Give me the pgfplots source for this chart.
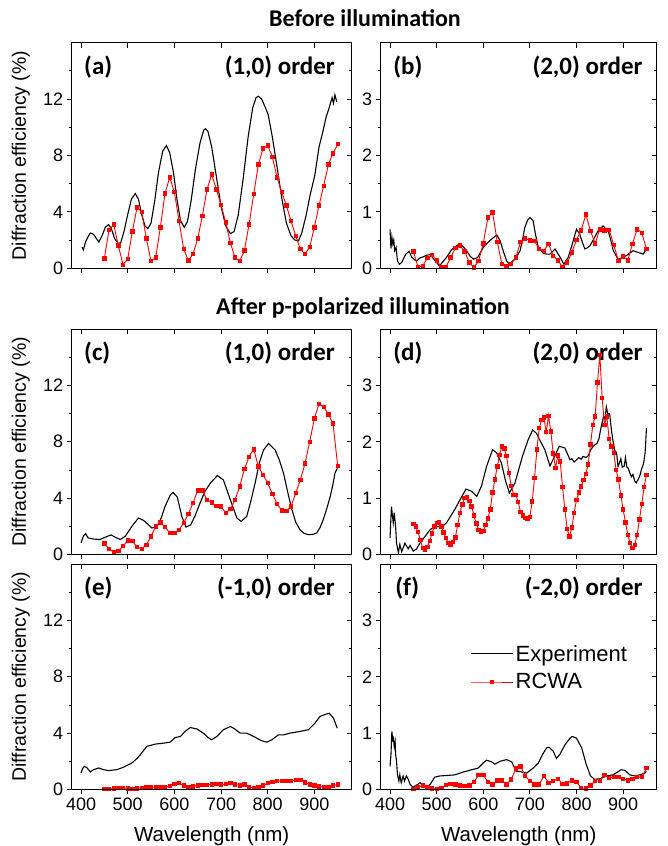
\documentclass[border=0pt]{standalone}
\usepackage{fontspec}
\setmainfont{Liberation Sans}
\newfontfamily\calfont{Carlito}
\usepackage{pgfplots}
\pgfplotsset{compat=1.18}
\tikzset{plab/.style={font=\calfont\bfseries\fontsize{25}{30}\selectfont, inner sep=0pt}}
\pgfplotsset{
  base/.style={
    scale only axis, width=280pt, height=225.5pt,
    xmin=380, xmax=980,
    xtick={400,500,...,900},
    tick align=outside, xtick pos=bottom, ytick pos=left,
    major tick length=5pt, minor tick length=3pt,
    tick style={black, line width=0.8pt},
    axis line style={line width=0.8pt},
    ticklabel style={font=\fontsize{18}{20}\selectfont},
    /pgf/number format/assume math mode=true,
    anchor=north west,
  },
  leftcol/.style={base, ymin=0, ymax=16, ytick={0,4,8,12}, minor ytick={2,6,10,14},
    ylabel={Diffraction efficiency (\%)},
    ylabel style={font=\fontsize{19.5}{22}\selectfont, at={(axis description cs:-0.182,0.5)}, anchor=center}},
  rightcol/.style={base, width=276pt, xmax=972, ymin=0, ymax=4, ytick={0,1,2,3}, minor ytick={0.5,1.5,2.5,3.5}},
  noxl/.style={xticklabels={}},
  xl/.style={xlabel={Wavelength (nm)}, xlabel style={font=\fontsize{20.5}{23}\selectfont, inner sep=0pt, at={(axis description cs:0.5,-0.205)}, anchor=center}},
  over/.style={xtick pos=top, ytick pos=right, tick align=inside, xticklabels={}, yticklabels={}, ylabel={}, xlabel={}},
  exp/.style={black, line width=1.1pt, no markers},
  rcwa/.style={red, line width=0.9pt, mark=square*, mark size=1.7pt, mark options={solid}},
}
\begin{document}
\begin{tikzpicture}
\useasboundingbox (0pt,0pt) rectangle (667pt,846pt);
\node[font=\calfont\bfseries\fontsize{24}{28}\selectfont, anchor=base] at (365pt,819pt) {Before illumination};
\node[font=\calfont\bfseries\fontsize{24}{28}\selectfont, anchor=base] at (363pt,531pt) {After p-polarized illumination};

% (a)
\begin{axis}[leftcol, noxl, at={(71.7pt,803.3pt)}]
\addplot[exp] coordinates {(402,1.5)(405,1.3)(410,1.9)(416,2.3)(420,2.5)(427,2.4)(433,2.1)(438,1.85)(445,2.3)(452,2.9)(459,3.1)(465,2.8)(472,2.1)(480,1.75)(485,1.8)(492,2.6)(500,3.8)(508,4.9)(516,5.3)(523,4.9)(530,3.8)(537,3.0)(543,2.8)(550,3.2)(558,4.8)(566,6.8)(575,8.3)(583,8.7)(590,8.2)(598,6.8)(606,4.8)(613,3.4)(621,2.9)(628,3.3)(636,4.8)(645,7.0)(655,8.9)(663,9.8)(667,9.9)(672,9.7)(680,8.6)(690,6.5)(700,4.4)(710,3.0)(720,2.45)(728,2.6)(737,3.8)(748,6.5)(758,9.3)(768,11.4)(775,12.1)(780,12.2)(787,12.0)(795,11.4)(801,10.9)(810,9.3)(820,7.2)(830,5.0)(840,3.2)(850,2.3)(858,2.0)(866,1.95)(873,2.5)(882,3.7)(891,5.2)(901,6.6)(910,8.6)(919,9.8)(925,10.7)(932,11.4)(938,12.1)(941,11.7)(944,12.3)(948,11.8)};
\addplot[rcwa] coordinates {(450,0.7)(460,2.7)(470,3.1)(480,1.6)(490,0.25)(500,0.65)(510,2.6)(520,4.3)(530,4.0)(540,2.1)(550,0.5)(560,0.75)(570,2.9)(580,5.3)(590,6.45)(600,5.4)(610,3.35)(620,1.35)(630,0.55)(640,1.0)(650,2.1)(660,3.7)(670,5.6)(680,6.65)(690,5.6)(700,4.5)(710,3.25)(720,1.8)(730,0.75)(740,0.5)(750,1.25)(760,3.1)(770,5.25)(780,7.35)(790,8.5)(800,8.7)(810,7.9)(820,6.45)(830,5.4)(840,4.45)(850,3.35)(860,2.3)(870,1.35)(880,1.0)(890,1.5)(900,2.9)(910,4.45)(920,5.85)(930,7.35)(940,8.15)(950,8.8)};
\node[plab, anchor=west] at (rel axis cs:0.044,0.893) {(a)};
\node[plab, anchor=east] at (rel axis cs:0.94,0.893) {(1,0) order};
\end{axis}
\begin{axis}[leftcol, over, at={(71.7pt,803.3pt)}]
\end{axis}

% (b)
\begin{axis}[rightcol, noxl, at={(380.7pt,803.3pt)}]
\addplot[exp] coordinates {(400,0.69)(402,0.35)(404,0.55)(406,0.43)(408,0.5)(410,0.31)(413,0.37)(416,0.13)(420,0.07)(425,0.1)(430,0.19)(434,0.25)(441,0.3)(446,0.2)(452,0.15)(457,0.13)(464,0.18)(471,0.2)(478,0.23)(486,0.24)(496,0.14)(506,0.04)(514,0.12)(521,0.19)(532,0.33)(543,0.4)(550,0.43)(557,0.38)(564,0.31)(572,0.21)(579,0.16)(588,0.19)(600,0.37)(614,0.49)(629,0.59)(636,0.49)(643,0.3)(650,0.13)(656,0.07)(662,0.12)(668,0.16)(679,0.31)(684,0.5)(689,0.72)(695,0.85)(700,0.9)(707,0.84)(712,0.6)(718,0.37)(729,0.26)(736,0.25)(743,0.25)(754,0.34)(763,0.22)(773,0.07)(782,0.19)(790,0.4)(800,0.69)(807,0.6)(813,0.45)(818,0.34)(823,0.36)(829,0.4)(837,0.52)(846,0.66)(857,0.75)(868,0.66)(874,0.48)(879,0.31)(889,0.16)(900,0.19)(910,0.24)(921,0.31)(932,0.28)(943,0.25)(950,0.34)};
\addplot[rcwa] coordinates {(450,0.3)(460,0.02)(470,0.04)(480,0.18)(490,0.24)(500,0.14)(510,0.02)(520,0.02)(530,0.19)(540,0.36)(550,0.40)(560,0.30)(570,0.10)(580,0.01)(590,0.13)(600,0.44)(610,0.90)(620,0.99)(630,0.47)(640,0.07)(650,0.04)(660,0.08)(670,0.19)(680,0.47)(690,0.53)(700,0.49)(710,0.48)(720,0.34)(730,0.31)(740,0.43)(750,0.22)(760,0.14)(770,0.02)(780,0.10)(790,0.28)(800,0.50)(810,0.67)(820,0.95)(830,0.66)(840,0.44)(850,0.69)(860,0.67)(870,0.68)(880,0.41)(890,0.13)(900,0.21)(910,0.14)(920,0.43)(930,0.69)(940,0.63)(950,0.34)};
\node[plab, anchor=west] at (rel axis cs:0.045,0.893) {(b)};
\node[plab, anchor=east] at (rel axis cs:0.949,0.893) {(2,0) order};
\end{axis}
\begin{axis}[rightcol, over, at={(380.7pt,803.3pt)}]
\end{axis}

% (c)
\begin{axis}[leftcol, noxl, at={(71.7pt,517pt)}]
\addplot[exp] coordinates {(400,0.82)(405,1.3)(410,1.48)(415,1.18)(426,1.1)(440,1.06)(450,1.2)(464,1.39)(475,1.2)(484,1.06)(495,1.3)(509,2.0)(523,2.59)(534,2.42)(552,1.88)(563,1.99)(572,2.6)(580,3.41)(591,4.2)(597,4.4)(606,4.1)(616,2.7)(625,1.95)(635,2.1)(645,2.8)(655,3.65)(666,4.5)(677,5.06)(692,5.6)(705,5.29)(720,3.88)(734,2.59)(743,2.35)(755,2.7)(764,3.8)(773,5.06)(782,6.5)(791,7.41)(802,7.88)(816,7.41)(825,6.7)(834,5.76)(843,4.4)(852,3.18)(860,2.3)(869,1.76)(878,1.5)(887,1.41)(896,1.42)(905,1.53)(912,1.9)(919,2.47)(927,3.3)(934,4.12)(940,5.0)(944,5.76)(949,6.12)};
\addplot[rcwa] coordinates {(450,0.78)(460,0.40)(470,0.16)(480,0.24)(490,0.59)(500,0.99)(510,0.94)(520,0.54)(530,0.40)(540,0.68)(550,1.29)(560,2.00)(570,2.28)(580,1.95)(590,1.53)(600,1.53)(610,1.76)(620,2.24)(630,2.89)(640,3.65)(650,4.54)(660,4.54)(670,3.88)(680,3.69)(690,3.46)(700,3.41)(710,2.94)(720,3.22)(730,3.88)(740,4.82)(750,6.05)(760,6.94)(770,7.46)(780,6.24)(790,5.65)(800,5.06)(810,4.31)(820,3.60)(830,3.13)(840,3.08)(850,3.41)(860,4.35)(870,5.29)(880,6.47)(890,8.00)(900,9.65)(910,10.7)(920,10.47)(930,9.95)(940,9.29)(950,6.28)};
\node[plab, anchor=west] at (rel axis cs:0.044,0.892) {(c)};
\node[plab, anchor=east] at (rel axis cs:0.94,0.892) {(1,0) order};
\end{axis}
\begin{axis}[leftcol, over, at={(71.7pt,517pt)}]
\end{axis}

% (d)
\begin{axis}[rightcol, noxl, at={(380.7pt,517pt)}]
\addplot[exp] coordinates {(400,0.29)(403,0.85)(407,0.56)(409,0.74)(412,0.5)(414,0.2)(418,0.03)(421,0.18)(425,0.05)(432,0.2)(439,0.1)(443,0.16)(450,0.06)(457,0.1)(464,0.2)(475,0.32)(486,0.44)(496,0.5)(511,0.49)(521,0.56)(539,0.8)(554,1.03)(563,1.16)(575,1.12)(586,1.03)(596,1.21)(607,1.56)(620,1.86)(629,1.8)(639,1.62)(648,1.3)(656,1.09)(668,1.27)(684,1.74)(696,2.03)(706,2.21)(714,2.15)(723,2.0)(732,1.86)(743,1.57)(753,1.74)(763,1.92)(775,1.89)(786,1.68)(790,1.7)(795,1.64)(800,1.68)(805,1.72)(810,1.69)(814,1.74)(820,1.72)(825,1.75)(830,1.85)(836,1.92)(840,1.95)(844,1.97)(848,2.05)(853,2.27)(858,2.45)(861,2.4)(864,2.62)(867,2.5)(871,2.5)(875,2.2)(878,2.03)(882,1.85)(886,1.8)(889,1.56)(891,1.6)(895,1.7)(898,1.55)(902,1.56)(905,1.72)(908,1.55)(911,1.53)(914,1.45)(918,1.38)(921,1.42)(925,1.3)(928,1.27)(932,1.33)(936,1.4)(939,1.5)(944,1.62)(947,1.8)(948,1.92)(950,2.24)};
\addplot[rcwa] coordinates {(450,0.54)(455,0.50)(460,0.40)(465,0.26)(470,0.12)(475,0.09)(480,0.13)(485,0.24)(490,0.37)(495,0.50)(500,0.56)(505,0.57)(510,0.50)(515,0.39)(520,0.29)(525,0.20)(530,0.18)(535,0.22)(540,0.30)(545,0.52)(550,0.74)(555,0.89)(560,1.00)(565,1.01)(570,0.95)(575,0.85)(580,0.69)(585,0.55)(590,0.44)(595,0.41)(600,0.42)(605,0.52)(610,0.64)(615,0.80)(620,1.10)(625,1.33)(630,1.56)(635,1.77)(640,1.92)(645,1.88)(650,1.75)(655,1.45)(660,1.22)(665,1.06)(670,1.06)(675,0.93)(680,0.75)(685,0.69)(690,0.65)(695,0.64)(700,0.67)(705,0.94)(710,1.36)(715,1.86)(720,2.24)(725,2.39)(730,2.43)(735,2.17)(740,2.46)(745,2.18)(750,1.79)(755,1.53)(760,1.76)(765,1.65)(770,1.2)(775,0.8)(780,0.45)(785,0.32)(790,0.48)(795,0.74)(800,0.97)(805,1.10)(810,1.21)(815,1.32)(820,1.43)(825,1.60)(830,1.95)(835,2.30)(840,2.45)(845,3.05)(850,3.54)(855,2.78)(860,2.30)(865,2.45)(870,2.05)(875,1.92)(880,1.80)(885,1.50)(890,1.33)(895,1.05)(900,0.80)(905,0.57)(910,0.35)(915,0.20)(920,0.12)(925,0.17)(930,0.35)(935,0.62)(940,0.90)(945,1.20)(950,1.41)};
\node[plab, anchor=west] at (rel axis cs:0.045,0.892) {(d)};
\node[plab, anchor=east] at (rel axis cs:0.949,0.892) {(2,0) order};
\end{axis}
\begin{axis}[rightcol, over, at={(380.7pt,517pt)}]
\end{axis}

% (e)
\begin{axis}[leftcol, xl, at={(71.7pt,282pt)}]
\addplot[exp] coordinates {(400,1.18)(404,1.53)(408,1.65)(413,1.53)(416,1.41)(420,1.25)(427,1.41)(438,1.53)(448,1.41)(459,1.34)(477,1.41)(491,1.58)(509,1.88)(520,2.2)(527,2.47)(541,3.06)(559,3.22)(577,3.29)(591,3.36)(602,3.69)(613,3.76)(623,4.12)(634,4.4)(648,4.3)(662,4.0)(672,3.7)(680,3.53)(691,3.76)(705,4.24)(720,4.47)(727,4.35)(741,4.0)(755,4.0)(770,3.76)(787,3.46)(798,3.36)(809,3.53)(823,3.88)(834,3.88)(848,4.0)(869,4.12)(887,4.24)(901,4.7)(912,5.18)(926,5.36)(932,5.41)(941,5.06)(949,4.35)};
\addplot[rcwa] coordinates {(450,0.02)(460,0.05)(470,0.07)(480,0.12)(490,0.12)(500,0.07)(510,0.05)(520,0.07)(530,0.12)(540,0.16)(550,0.16)(560,0.16)(570,0.19)(580,0.16)(590,0.24)(600,0.4)(610,0.45)(620,0.28)(630,0.19)(640,0.21)(650,0.3)(660,0.33)(670,0.33)(680,0.35)(690,0.38)(700,0.35)(710,0.38)(720,0.45)(730,0.35)(740,0.3)(750,0.35)(760,0.14)(770,0.12)(780,0.19)(790,0.3)(800,0.45)(810,0.52)(820,0.59)(830,0.61)(840,0.59)(850,0.59)(860,0.66)(870,0.66)(880,0.49)(890,0.35)(900,0.28)(910,0.21)(920,0.16)(930,0.19)(940,0.28)(950,0.35)};
\node[plab, anchor=west] at (rel axis cs:0.044,0.893) {(e)};
\node[plab, anchor=east] at (rel axis cs:0.94,0.893) {(-1,0) order};
\end{axis}
\begin{axis}[leftcol, over, at={(71.7pt,282pt)}]
\end{axis}

% (f)
\begin{axis}[rightcol, xl, at={(380.7pt,282pt)},
  legend style={at={(rel axis cs:0.325,0.65)}, anchor=north west, draw=none, fill=none,
    font=\fontsize{22}{25}\selectfont, row sep=7pt, inner sep=0pt},
  legend cell align=left,
  legend image code/.code={\draw[mark repeat=2,mark phase=2,#1] plot coordinates {(0pt,0pt) (21pt,0pt) (42pt,0pt)};}]
\addplot[exp] coordinates {(400,0.41)(402,0.62)(404,1.03)(406,0.85)(407,0.94)(409,0.76)(411,0.85)(412,0.62)(414,0.5)(416,0.26)(419,0.15)(421,0.26)(424,0.12)(428,0.24)(431,0.15)(435,0.24)(439,0.18)(443,0.09)(450,0.04)(461,0.1)(464,0.12)(473,0.07)(479,0.04)(486,0.09)(496,0.22)(507,0.24)(525,0.25)(539,0.26)(557,0.31)(575,0.35)(589,0.38)(600,0.47)(607,0.52)(618,0.49)(625,0.45)(636,0.5)(650,0.53)(661,0.49)(671,0.32)(678,0.32)(693,0.29)(707,0.38)(718,0.47)(727,0.62)(736,0.74)(741,0.75)(750,0.68)(757,0.55)(764,0.62)(775,0.79)(786,0.91)(791,0.94)(800,0.91)(811,0.74)(821,0.44)(830,0.24)(839,0.18)(850,0.19)(864,0.24)(878,0.26)(896,0.35)(904,0.34)(914,0.26)(925,0.24)(936,0.26)(946,0.29)(950,0.32)};
\addlegendentry{Experiment}
\addplot[rcwa] coordinates {(450,0.01)(460,0.05)(470,0.07)(480,0.04)(490,0.02)(500,0.01)(510,0.03)(520,0.08)(530,0.1)(540,0.09)(550,0.07)(560,0.06)(570,0.07)(580,0.13)(590,0.26)(600,0.26)(610,0.13)(620,0.09)(630,0.16)(640,0.16)(650,0.09)(660,0.18)(670,0.37)(680,0.41)(690,0.24)(700,0.15)(710,0.09)(720,0.09)(730,0.24)(740,0.12)(750,0.15)(760,0.19)(770,0.1)(780,0.11)(790,0.16)(800,0.13)(810,0.03)(820,0.02)(830,0.07)(840,0.15)(850,0.15)(860,0.26)(870,0.21)(880,0.22)(890,0.22)(900,0.19)(910,0.16)(920,0.19)(930,0.22)(940,0.22)(950,0.38)};
\addlegendentry{RCWA}
\node[plab, anchor=west] at (rel axis cs:0.052,0.893) {(f)};
\node[plab, anchor=east] at (rel axis cs:0.949,0.893) {(-2,0) order};
\end{axis}
\begin{axis}[rightcol, over, at={(380.7pt,282pt)}]
\end{axis}
\end{tikzpicture}
\end{document}
